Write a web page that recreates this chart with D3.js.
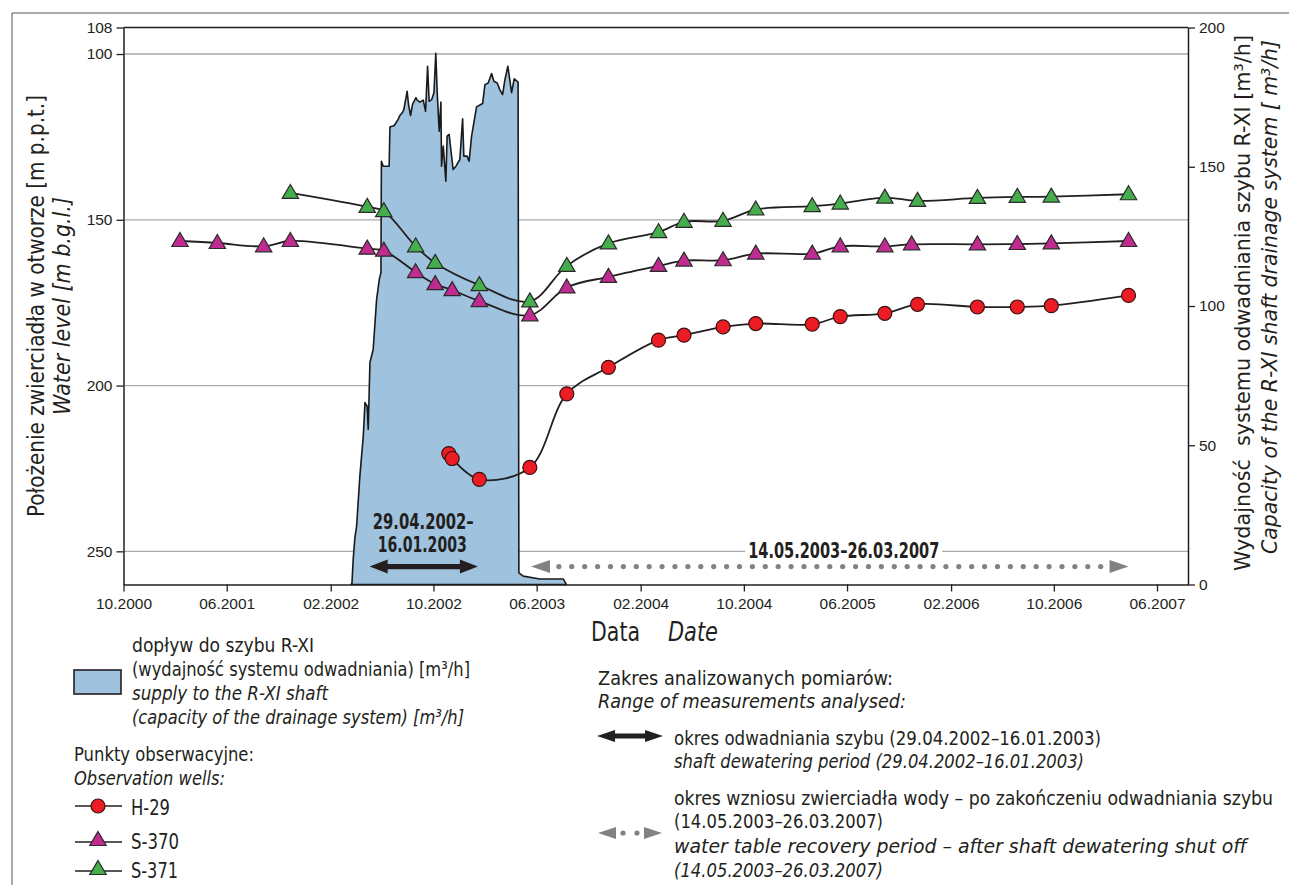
<!DOCTYPE html>
<html><head><meta charset="utf-8">
<script src="https://cdn.jsdelivr.net/npm/d3@7"></script>
<style>
body{margin:0;background:#fff;}
svg text{font-family:"Liberation Sans Narrow","Arial Narrow","DejaVu Sans Condensed",sans-serif;fill:#231f20;}
svg .tick text{font-family:"Liberation Sans",Arial,sans-serif;}
</style></head><body>
<svg id="chart" width="1289" height="885"></svg>
<script>
// ---------------- DATA ----------------
const xTickDates = ["2000-10-01","2001-06-01","2002-02-01","2002-10-01","2003-06-01","2004-02-01","2004-10-01","2005-06-01","2006-02-01","2006-10-01","2007-06-01"];
const leftTickValues = [92,100,150,200,250];
const leftTickLabels = ["108","100","150","200","250"];
const rightTickValues = [0,50,100,150,200];
const gridValues = [100,150,200,250];

const h29Dates = ["2002-11-06","2002-11-14","2003-01-17","2003-05-16","2003-08-11","2003-11-17","2004-03-14","2004-05-13","2004-08-13","2004-10-29","2005-03-11","2005-05-16","2005-08-29","2005-11-14","2006-04-04","2006-07-07","2006-09-25","2007-03-26"];
const h29Values = [220.5,222.0,228.3,224.7,202.5,194.5,186.3,184.8,182.3,181.3,181.5,179.2,178.2,175.5,176.3,176.3,175.9,172.8];

const s370Dates = ["2001-02-11","2001-05-10","2001-08-27","2001-10-29","2002-04-28","2002-06-06","2002-08-20","2002-10-05","2002-11-14","2003-01-17","2003-05-16","2003-08-11","2003-11-17","2004-03-14","2004-05-13","2004-08-13","2004-10-29","2005-03-11","2005-05-16","2005-08-29","2005-10-31","2006-04-04","2006-07-07","2006-09-25","2007-03-26"];
const s370Values = [156.4,157.0,158.0,156.4,158.7,159.3,165.8,169.4,171.2,174.5,178.8,170.4,167.2,163.9,162.3,162.2,160.2,160.2,158.0,158.0,157.4,157.4,157.3,157.1,156.4];

const s371Dates = ["2001-10-29","2002-04-28","2002-06-06","2002-08-20","2002-10-05","2003-01-17","2003-05-16","2003-08-11","2003-11-17","2004-03-14","2004-05-13","2004-08-13","2004-10-29","2005-03-11","2005-05-16","2005-08-29","2005-11-14","2006-04-04","2006-07-07","2006-09-25","2007-03-26"];
const s371Values = [141.9,146.1,147.4,158.0,163.0,169.7,174.6,163.9,157.1,153.7,150.6,150.3,146.9,145.9,145.1,143.3,144.3,143.4,143.1,143.0,142.3];

// flow into shaft R-XI [m3/h], time as decimal year
const flowYears = [2002.215,2002.222,2002.230,2002.241,2002.252,2002.273,2002.295,2002.306,2002.320,2002.327,2002.338,2002.359,2002.381,2002.398,2002.409,2002.412,2002.424,2002.462,2002.467,2002.495,2002.520,2002.531,2002.549,2002.557,2002.578,2002.587,2002.600,2002.613,2002.635,2002.643,2002.660,2002.682,2002.697,2002.710,2002.720,2002.736,2002.751,2002.763,2002.772,2002.785,2002.796,2002.800,2002.811,2002.828,2002.836,2002.849,2002.860,2002.875,2002.893,2002.918,2002.936,2002.944,2002.965,2002.978,2002.994,2003.026,2003.065,2003.080,2003.101,2003.123,2003.138,2003.159,2003.176,2003.194,2003.209,2003.228,2003.252,2003.269,2003.294,2003.299,2003.327,2003.434,2003.585,2003.602,2003.605];
const flowValues = [0,0.4,9.0,16.9,20.9,38.9,53.2,65.3,64.0,55.7,79.7,84.4,102.3,109.5,112,152.0,150.2,150.2,164.3,164.8,167.0,168.4,169.6,170.6,177.1,172.4,168.4,172.4,174.8,173.9,173.2,173.9,169.9,186.1,173.5,174.1,176.6,190.7,176.8,162.8,173.2,150.2,157.4,144.8,161.0,161.6,156.2,149.0,150.2,152.6,167.2,153.8,153.8,152.0,161.0,171.5,172.7,179.5,180.1,183.5,180.7,180.1,177.7,175.9,181.3,186.1,176.6,181.6,180.4,4.2,3.0,2.0,2.0,0.4,0];

const dewateringPeriod = ["2002-04-29","2003-01-16"];
const recoveryPeriod = ["2003-05-14","2007-03-26"];
const dewateringLabel = ["29.04.2002–","16.01.2003"];
const recoveryLabel = "14.05.2003–26.03.2007";

// ---------------- SETUP ----------------
const parse = d3.timeParse("%Y-%m-%d");
const yearToDate = y => { const yr = Math.floor(y); const s = new Date(yr,0,1), e = new Date(yr+1,0,1); return new Date(+s + (y-yr)*(e-s)); };
const svg = d3.select("#chart");

const L = 123.5, R = 1188, T = 27.5, B = 584.5;
const x = d3.scaleTime().domain([new Date(2000,9,1), new Date(2007,7,13)]).range([L,R]);
const yL = d3.scaleLinear().domain([92,260]).range([T,B]);
const yR = d3.scaleLinear().domain([0,200]).range([B,T]);

// outer frame (partial)
svg.append("path").attr("d",`M12,885V13H1289`).attr("fill","none").attr("stroke","#555").attr("stroke-width",1);

// gridlines
svg.append("g").selectAll("line").data(gridValues).join("line")
  .attr("x1",L).attr("x2",R).attr("y1",d=>yL(d)).attr("y2",d=>yL(d))
  .attr("stroke","#a7a9ac").attr("stroke-width",1.3);

// flow area
const flow = flowYears.map((y,i)=>({d:yearToDate(y), v:flowValues[i]}));
svg.append("path").datum(flow)
  .attr("d", d3.area().x(p=>x(p.d)).y0(yR(0)).y1(p=>yR(p.v)))
  .attr("fill","#9fc3de").attr("stroke","#1a1a1a").attr("stroke-width",1.6).attr("stroke-linejoin","round");

// series
const curve = d3.curveCatmullRom.alpha(0.5);
const line = d3.line().x(p=>x(p.d)).y(p=>yL(p.v)).curve(curve);
const mk = (ds,vs)=>ds.map((d,i)=>({d:parse(d), v:vs[i]}));
const series = [
  {name:"S-371", data:mk(s371Dates,s371Values), shape:"tri", color:"#45ad4b"},
  {name:"S-370", data:mk(s370Dates,s370Values), shape:"tri", color:"#bf2b8f"},
  {name:"H-29",  data:mk(h29Dates,h29Values),  shape:"circle", color:"#ec1c24"}
];
const triPath = "M0,-8.5L8.2,5.5L-8.2,5.5Z";
function drawMarker(g, shape, color){
  if(shape==="circle") g.append("circle").attr("r",7).attr("fill",color).attr("stroke","#3b1010").attr("stroke-width",1.2);
  else g.append("path").attr("d",triPath).attr("fill",color).attr("stroke","#2a2a2a").attr("stroke-width",1.2);
}
series.forEach(s=>{
  svg.append("path").datum(s.data).attr("d",line).attr("fill","none").attr("stroke","#231f20").attr("stroke-width",1.8);
});
series.forEach(s=>{
  s.data.forEach(p=>{
    const g = svg.append("g").attr("transform",`translate(${x(p.d)},${yL(p.v)})`);
    drawMarker(g,s.shape,s.color);
  });
});

// arrows
function blackArrow(g,x1,x2,y,head=18,hh=7,sw=2.6){
  g.append("path").attr("d",`M${x1},${y}L${x1+head},${y-hh}L${x1+head},${y-sw}L${x2-head},${y-sw}L${x2-head},${y-hh}L${x2},${y}L${x2-head},${y+hh}L${x2-head},${y+sw}L${x1+head},${y+sw}L${x1+head},${y+hh}Z`).attr("fill","#231f20");
}
function greyArrow(g,x1,x2,y,head=19,hh=6.5,step=12.9,r=2.6){
  g.append("path").attr("d",`M${x1},${y}L${x1+head},${y-hh}L${x1+head},${y+hh}Z`).attr("fill","#808285");
  g.append("path").attr("d",`M${x2},${y}L${x2-head},${y-hh}L${x2-head},${y+hh}Z`).attr("fill","#808285");
  const n = Math.floor((x2-x1-2*head-6)/step);
  const start = (x1+x2)/2 - (n*step)/2;
  for(let i=0;i<=n;i++) g.append("circle").attr("cx",start+i*step).attr("cy",y).attr("r",r).attr("fill","#808285");
}
const fit = (t,w)=>t.attr("textLength",w).attr("lengthAdjust","spacingAndGlyphs");
const ay = yL(254.6);
const ann = svg.append("g");
blackArrow(ann, x(parse(dewateringPeriod[0]))+2, x(parse(dewateringPeriod[1]))-1, ay);
greyArrow(ann, x(parse(recoveryPeriod[0]))+2, x(parse(recoveryPeriod[1])), ay);
const dmid = (x(parse(dewateringPeriod[0]))+x(parse(dewateringPeriod[1])))/2;
const dlW = [101,89];
dewateringLabel.forEach((d,i)=>{
  fit(ann.append("text").attr("x",dmid - (i?1:0)).attr("y",yL(243.3)+i*22.5).attr("text-anchor","middle")
    .attr("font-size",21).attr("font-weight","bold").text(d), dlW[i]);
});
const rmid = (x(parse(recoveryPeriod[0]))+x(parse(recoveryPeriod[1])))/2 + 15;
const rt = fit(ann.append("text").attr("x",rmid).attr("y",yL(251.9)).attr("text-anchor","middle")
  .attr("font-size",21).attr("font-weight","bold").text(recoveryLabel), 191);
const bb = rt.node().getBBox();
ann.insert("rect","text").attr("x",bb.x-3).attr("y",bb.y+3).attr("width",bb.width+6).attr("height",bb.height-6).attr("fill","#fff");

// axes
const axStyle = g=>{
  g.selectAll(".domain").attr("stroke","#231f20").attr("stroke-width",1.5);
  g.selectAll(".tick line").attr("stroke","#231f20").attr("stroke-width",1.3);
  g.selectAll(".tick text").attr("font-size",15.5).attr("fill","#231f20");
};
svg.append("g").attr("transform",`translate(0,${B})`)
  .call(d3.axisBottom(x).tickValues(xTickDates.map(parse)).tickFormat(d3.timeFormat("%m.%Y")).tickSize(7).tickSizeOuter(0).tickPadding(6))
  .call(axStyle);
svg.append("g").attr("transform",`translate(${L},0)`)
  .call(d3.axisLeft(yL).tickValues(leftTickValues).tickFormat((d,i)=>leftTickLabels[i]).tickSize(7).tickSizeOuter(0).tickPadding(4))
  .call(axStyle);
svg.append("g").attr("transform",`translate(${R},0)`)
  .call(d3.axisRight(yR).tickValues(rightTickValues).tickSize(7).tickSizeOuter(0).tickPadding(4))
  .call(axStyle);
svg.append("line").attr("x1",L).attr("x2",R).attr("y1",T).attr("y2",T).attr("stroke","#231f20").attr("stroke-width",1.5);

// text helper
function txt(g, xx, yy, s, size, italic, w){
  const t = g.append("text").attr("x",xx).attr("y",yy).attr("font-size",size).text(s);
  if(italic) t.attr("font-style","italic");
  if(w) fit(t,w);
  return t;
}

// axis titles
const lt = svg.append("g").attr("transform","translate(36,306) rotate(-90)");
fit(lt.append("text").attr("text-anchor","middle").attr("dy","0.35em").attr("font-size",23).text("Położenie zwierciadła w otworze [m p.p.t.]"),422);
const lt2 = svg.append("g").attr("transform","translate(62,306) rotate(-90)");
fit(lt2.append("text").attr("text-anchor","middle").attr("dy","0.35em").attr("font-size",23).attr("font-style","italic").text("Water level [m b.g.l.]"),218);

const rt1 = svg.append("g").attr("transform","translate(1242,303) rotate(-90)");
txt(rt1,0,0,"Wydajność  systemu odwadniania szybu R-XI [m³/h]",22,false,536).attr("text-anchor","middle").attr("dy","0.35em").style("white-space","pre");
const rt2 = svg.append("g").attr("transform","translate(1269,297) rotate(-90)");
txt(rt2,0,0,"Capacity of the R-XI shaft drainage system [ m³/h]",22,true,514).attr("text-anchor","middle").attr("dy","0.35em");

fit(svg.append("text").attr("x",591).attr("y",641).attr("font-size",26).text("Data"),49);
fit(svg.append("text").attr("x",668).attr("y",641).attr("font-size",26).attr("font-style","italic").text("Date"),50);

// ---------------- LEGEND ----------------
const lg = svg.append("g");
lg.append("rect").attr("x",74).attr("y",670).attr("width",47).attr("height",24).attr("fill","#9fc3de").attr("stroke","#231f20").attr("stroke-width",1.6);
txt(lg,132,652,"dopływ do szybu R-XI",19.5,false,182);
txt(lg,132,676,"(wydajność systemu odwadniania) [m³/h]",19.5,false,338);
txt(lg,132,700,"supply to the R-XI shaft",19.5,true,196);
txt(lg,132,724,"(capacity of the drainage system) [m³/h]",19.5,true,332);
txt(lg,74,761,"Punkty obserwacyjne:",19.5,false,180);
txt(lg,74,785,"Observation wells:",19.5,true,151);
const legendRows = [["H-29",806,"circle","#ec1c24",39],["S-370",840,"tri","#bf2b8f",48],["S-371",869,"tri","#45ad4b",47]];
legendRows.forEach(r=>{
  lg.append("line").attr("x1",75).attr("x2",122).attr("y1",r[1]+(r[2]==="tri"?2:0)).attr("y2",r[1]+(r[2]==="tri"?2:0)).attr("stroke","#231f20").attr("stroke-width",1.5);
  const g = lg.append("g").attr("transform",`translate(98,${r[1]})`);
  drawMarker(g,r[2],r[3]);
  fit(lg.append("text").attr("x",131).attr("y",r[1]+9).attr("font-size",21).text(r[0]),r[4]);
});

txt(lg,598,685,"Zakres analizowanych pomiarów:",19.5,false,295);
txt(lg,598,708,"Range of measurements analysed:",19.5,true,308);
blackArrow(lg,597,663,736,18,6,2.4);
txt(lg,674,745,"okres odwadniania szybu (29.04.2002–16.01.2003)",19.5,false,427);
txt(lg,674,768,"shaft dewatering period (29.04.2002–16.01.2003)",19.5,true,410);
txt(lg,674,805,"okres wzniosu zwierciadła wody – po zakończeniu odwadniania szybu",19.5,false,599);
txt(lg,674,828,"(14.05.2003–26.03.2007)",19.5,false,209);
greyArrow(lg,598,662,833,18,6,14,2.6);
txt(lg,674,853,"water table recovery period – after shaft dewatering shut off",19.5,true,573);
txt(lg,674,877,"(14.05.2003–26.03.2007)",19.5,true,209);
</script>
</body></html>
